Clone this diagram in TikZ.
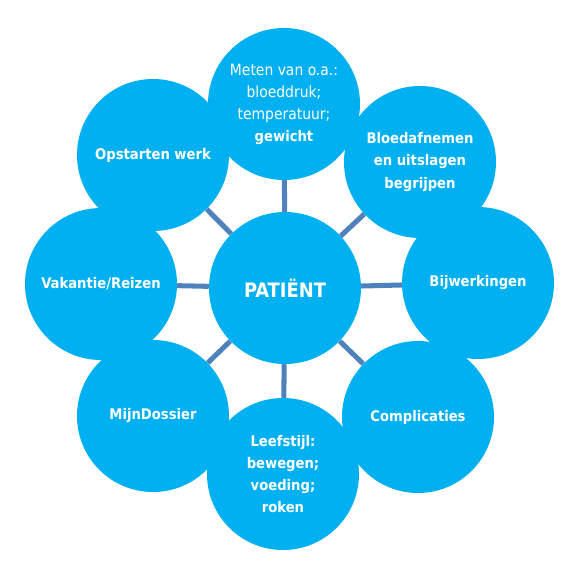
\documentclass[tikz,border=0pt]{standalone}
\usepackage{fontspec}
\setmainfont{DejaVu Sans Condensed}
\usetikzlibrary{positioning}
\definecolor{bubbleblue}{HTML}{00B0F0}
\definecolor{spokeblue}{HTML}{4F81BD}
\newcommand{\plainline}{\mdseries\fontsize{13.2}{18.8}\selectfont}

\begin{document}
\begin{tikzpicture}[
  x=0.03cm, y=-0.03cm,
  bubble/.style={circle, fill=bubbleblue, text=white, minimum size=4.56cm, inner sep=0pt, align=center, font=\bfseries\fontsize{12.5}{18.8}\selectfont},
  hub/.style={bubble, font=\bfseries\fontsize{17}{20}\selectfont},
  spoke/.style={draw=spokeblue, line width=4.3pt},
]
\useasboundingbox (0,0) rectangle (581,577);

% Centre
\node[hub] (patient) at (285,288) {PATIËNT};

% Outer ring, clockwise from the top
\node[bubble] (meten) at (284,104) {\plainline Meten van o.a.:\\ \plainline bloeddruk;\\ \plainline temperatuur;\\ gewicht};
\node[bubble] (bloed) at (420,162) {Bloedafnemen\\ en uitslagen\\ begrijpen};
\node[bubble] (bijwerk) at (478,283) {Bijwerkingen};
\node[bubble] (compl) at (418,417) {Complicaties};
\node[bubble] (leefstijl) at (283,474) {Leefstijl:\\ bewegen;\\ voeding;\\ roken};
\node[bubble] (dossier) at (153,416) {MijnDossier};
\node[bubble] (vakantie) at (101,284) {Vakantie/Reizen};
\node[bubble] (werk) at (153,155) {Opstarten werk};

% Spokes
\draw[spoke] (patient) -- (meten);
\draw[spoke] (patient) -- (bloed);
\draw[spoke] (patient) -- (bijwerk);
\draw[spoke] (patient) -- (compl);
\draw[spoke] (patient) -- (leefstijl);
\draw[spoke] (patient) -- (dossier);
\draw[spoke] (patient) -- (vakantie);
\draw[spoke] (patient) -- (werk);

\end{tikzpicture}
\end{document}
